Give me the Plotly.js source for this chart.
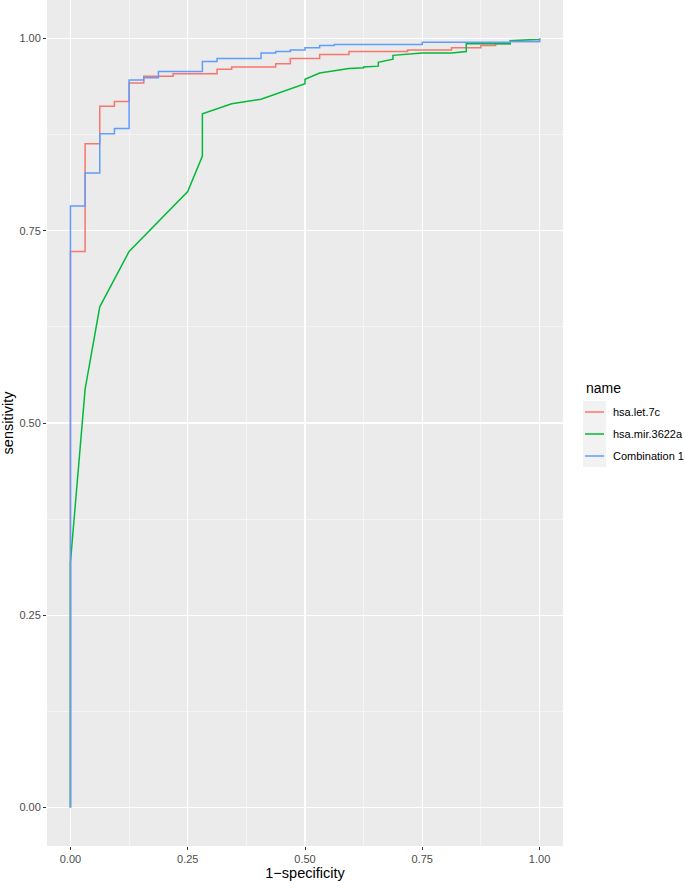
<!DOCTYPE html>
<html>
<head>
<meta charset="utf-8">
<script src="https://cdn.plot.ly/plotly-3.0.1.min.js"></script>
<style>
  html, body { margin: 0; padding: 0; background: #fff; }
  #roc { width: 685px; height: 881px; }
</style>
</head>
<body>
<div id="roc"></div>
<script>
'use strict';

// ROC curves; 1-specificity steps are multiples of 1/32
// let.7c and Combination 1 are step curves (vertical then horizontal)
const letFpr  = [0, 0.03125, 0.0625, 0.09375, 0.125, 0.15625, 0.21875, 0.3125, 0.34375, 0.4375, 0.46875, 0.53125, 0.59375, 0.71875, 0.8125, 0.875, 0.90625, 0.9375, 1, 1];
const letSens = [0, 0.723, 0.863, 0.912, 0.918, 0.942, 0.951, 0.954, 0.960, 0.963, 0.967, 0.974, 0.979, 0.983, 0.985, 0.988, 0.991, 0.993, 0.996, 1];

const mirFpr  = [0, 0, 0.03125, 0.0625, 0.125, 0.25, 0.28125, 0.28125, 0.34375, 0.40625, 0.5, 0.5, 0.53125, 0.59375, 0.625, 0.625, 0.65625, 0.65625, 0.6875, 0.6875, 0.75, 0.8125, 0.84375, 0.84375, 0.9375, 0.9375, 1, 1];
const mirSens = [0, 0.319, 0.544, 0.651, 0.723, 0.801, 0.847, 0.902, 0.915, 0.921, 0.941, 0.947, 0.955, 0.961, 0.962, 0.963, 0.964, 0.969, 0.973, 0.978, 0.981, 0.981, 0.983, 0.993, 0.993, 0.997, 0.999, 1];

const comboFpr  = [0, 0.03125, 0.0625, 0.09375, 0.125, 0.15625, 0.1875, 0.28125, 0.3125, 0.40625, 0.4375, 0.46875, 0.5, 0.53125, 0.5625, 0.75, 0.9375, 1, 1];
const comboSens = [0, 0.782, 0.825, 0.876, 0.883, 0.946, 0.949, 0.957, 0.970, 0.974, 0.981, 0.983, 0.985, 0.988, 0.991, 0.992, 0.995, 0.996, 1];

const seriesNames  = ['hsa.let.7c', 'hsa.mir.3622a', 'Combination 1'];
const seriesColors = ['#F8766D', '#00BA38', '#619CFF'];
const tickVals = [0, 0.25, 0.5, 0.75, 1];

const FONT = 'Liberation Sans, Arial, sans-serif';
const W = 685, H = 881;
const M = { l: 47, r: 122, t: 0, b: 35 };

// pixel -> paper helpers, only for the hand-made ggplot style legend
const pw = W - M.l - M.r, ph = H - M.t - M.b;
const px = v => (v - M.l) / pw;
const py = v => (H - M.b - v) / ph;

const traces = [
    { x: letFpr, y: letSens, name: seriesNames[0], type: 'scatter', mode: 'lines', line: { color: seriesColors[0], width: 1.5, shape: 'vh' } },
    { x: mirFpr, y: mirSens, name: seriesNames[1], type: 'scatter', mode: 'lines', line: { color: seriesColors[1], width: 1.5 } },
    { x: comboFpr, y: comboSens, name: seriesNames[2], type: 'scatter', mode: 'lines', line: { color: seriesColors[2], width: 1.5, shape: 'vh' } }
];

const axisBase = {
    range: [-0.05, 1.05], tickvals: tickVals, tickformat: '.2f',
    showgrid: true, gridcolor: '#ffffff', gridwidth: 1.1,
    zeroline: false, showline: false,
    ticks: 'outside', ticklen: 3, tickwidth: 1, tickcolor: '#333333',
    tickfont: { family: FONT, size: 11, color: '#4D4D4D' },
    minor: { dtick: 0.125, tick0: 0.125, showgrid: true, gridcolor: '#ffffff', gridwidth: 0.5, ticks: '' },
    fixedrange: true
};

// legend: title, grey key boxes, key lines, labels
const shapes = [], annotations = [];
annotations.push({ xref: 'paper', yref: 'paper', x: px(584), y: py(388), xanchor: 'left', yanchor: 'middle',
    text: 'name', showarrow: false, font: { family: FONT, size: 14, color: '#000' } });
seriesNames.forEach((nm, i) => {
    const top = 401 + i * 22, mid = top + 11;
    shapes.push({ type: 'rect', xref: 'paper', yref: 'paper', x0: px(583), x1: px(606), y0: py(top), y1: py(top + 22),
        fillcolor: '#F2F2F2', line: { width: 0 }, layer: 'below' });
    shapes.push({ type: 'line', xref: 'paper', yref: 'paper', x0: px(585), x1: px(604), y0: py(mid), y1: py(mid),
        line: { color: seriesColors[i], width: 1.5 } });
    annotations.push({ xref: 'paper', yref: 'paper', x: px(611), y: py(mid), xanchor: 'left', yanchor: 'middle',
        text: nm, showarrow: false, font: { family: FONT, size: 11, color: '#000' } });
});

const layout = {
    width: W, height: H,
    margin: { l: M.l, r: M.r, t: M.t, b: M.b, pad: 0 },
    paper_bgcolor: '#ffffff', plot_bgcolor: '#EBEBEB',
    font: { family: FONT, color: '#000000' },
    xaxis: Object.assign({}, axisBase, { title: { text: '1\u2212specificity', font: { family: FONT, size: 14.5, color: '#000' }, standoff: 2 } }),
    yaxis: Object.assign({}, axisBase, { title: { text: 'sensitivity', font: { family: FONT, size: 14.5, color: '#000' }, standoff: 3 } }),
    showlegend: false,
    shapes, annotations
};

Plotly.newPlot('roc', traces, layout, { displayModeBar: false, staticPlot: true });
</script>
</body>
</html>
